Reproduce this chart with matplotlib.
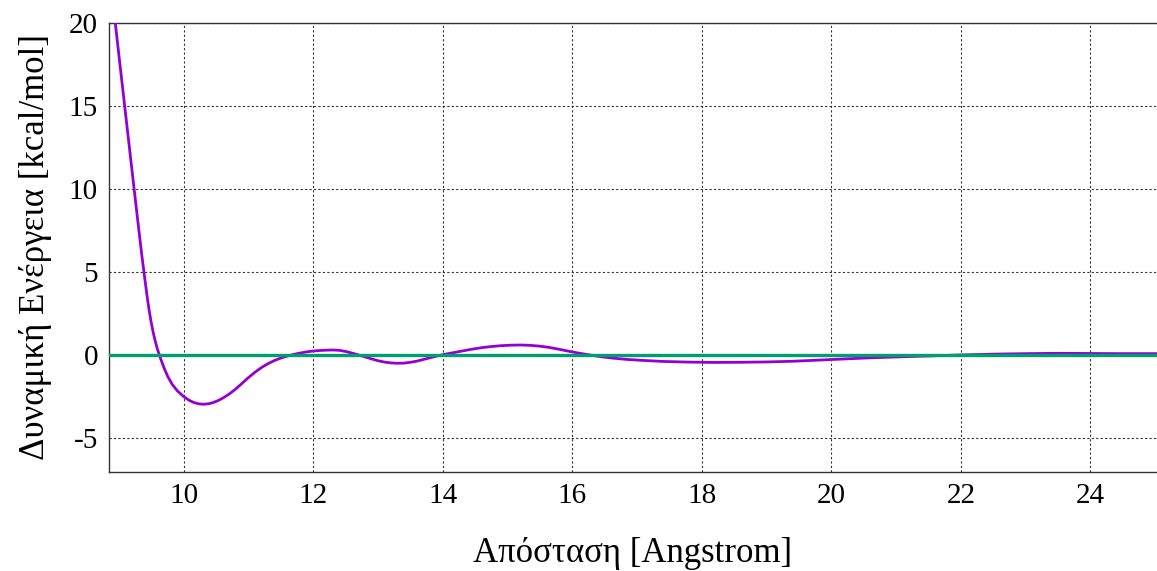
import matplotlib
matplotlib.use("Agg")
import matplotlib.pyplot as plt

# Potential energy profile vs. separation distance
distance = [8.939, 9.01, 9.08, 9.15, 9.22, 9.29, 9.35, 9.39, 9.43, 9.46, 9.49,
            9.52, 9.55, 9.585, 9.62, 9.66, 9.70, 9.75, 9.82, 9.90, 10.0, 10.08,
            10.15, 10.22, 10.30, 10.38, 10.45, 10.52, 10.6, 10.7, 10.8, 10.9,
            11.0, 11.1, 11.2, 11.3, 11.4, 11.5, 11.6, 11.7, 11.8, 11.9, 12.0,
            12.1, 12.2, 12.3, 12.4, 12.5, 12.6, 12.7, 12.8, 12.9, 13.0, 13.1,
            13.2, 13.3, 13.4, 13.5, 13.6, 13.7, 13.8, 13.9, 14.0, 14.15, 14.3,
            14.45, 14.6, 14.75, 14.9, 15.05, 15.2, 15.35, 15.5, 15.65, 15.8,
            15.95, 16.1, 16.27, 16.45, 16.65, 16.85, 17.1, 17.4, 17.8, 18.2,
            18.6, 19.0, 19.4, 19.8, 20.2, 20.6, 21.0, 21.5, 22.0, 22.5, 23.0,
            23.5, 24.0, 24.5, 25.03]
energy = [20.0, 17.55, 15.15, 12.75, 10.35, 7.97, 5.98, 4.75, 3.55, 2.75, 2.05,
          1.45, 0.93, 0.42, 0.0, -0.44, -0.85, -1.3, -1.78, -2.17, -2.52, -2.73,
          -2.86, -2.94, -2.97, -2.94, -2.87, -2.76, -2.6, -2.35, -2.05, -1.7,
          -1.35, -1.03, -0.75, -0.52, -0.33, -0.18, -0.06, 0.04, 0.12, 0.19, 0.24,
          0.27, 0.29, 0.30, 0.28, 0.21, 0.11, 0.0, -0.12, -0.24, -0.35, -0.43,
          -0.48, -0.50, -0.49, -0.44, -0.37, -0.27, -0.17, -0.07, 0.02, 0.13, 0.24,
          0.35, 0.44, 0.51, 0.56, 0.59, 0.60, 0.58, 0.53, 0.45, 0.34,
          0.22, 0.11, 0.0, -0.11, -0.2, -0.27, -0.33, -0.39, -0.43, -0.45,
          -0.44, -0.42, -0.38, -0.31, -0.24, -0.17, -0.12, -0.06, 0.0, 0.05, 0.08,
          0.1, 0.09, 0.08, 0.08]

x_ticks = [10, 12, 14, 16, 18, 20, 22, 24]
y_ticks = [-5, 0, 5, 10, 15, 20]

plt.rcParams['font.family'] = ['Liberation Serif', 'DejaVu Serif']
plt.rcParams['axes.unicode_minus'] = False

fig = plt.figure(figsize=(11.57, 5.71), dpi=100)
ax = fig.add_axes([0.0942, 0.1734, 0.9058, 0.7863])

ax.plot(distance, energy, color='#9400D3', lw=2.0, zorder=3,
        solid_joinstyle='round')
ax.axhline(0, color='#009E73', lw=2.4, zorder=4)

ax.set_xlim(8.842, 25.03)
ax.set_ylim(-7.05, 20)
ax.set_xticks(x_ticks)
ax.set_yticks(y_ticks)
ax.tick_params(length=0, labelsize=21, pad=8, colors='black')

ax.grid(True, color='#333333', linestyle=(0, (2, 2)), lw=0.8)
ax.set_axisbelow(True)

for side in ['left', 'bottom', 'top']:
    ax.spines[side].set_color('#333333')
    ax.spines[side].set_linewidth(1.0)
ax.spines['right'].set_visible(False)

ax.set_xlabel('Απόσταση [Angstrom]', fontsize=25, labelpad=20)
ax.set_ylabel('Δυναμική Ενέργεια [kcal/mol]', fontsize=25, labelpad=12)

fig.savefig('out.png', dpi=100)
